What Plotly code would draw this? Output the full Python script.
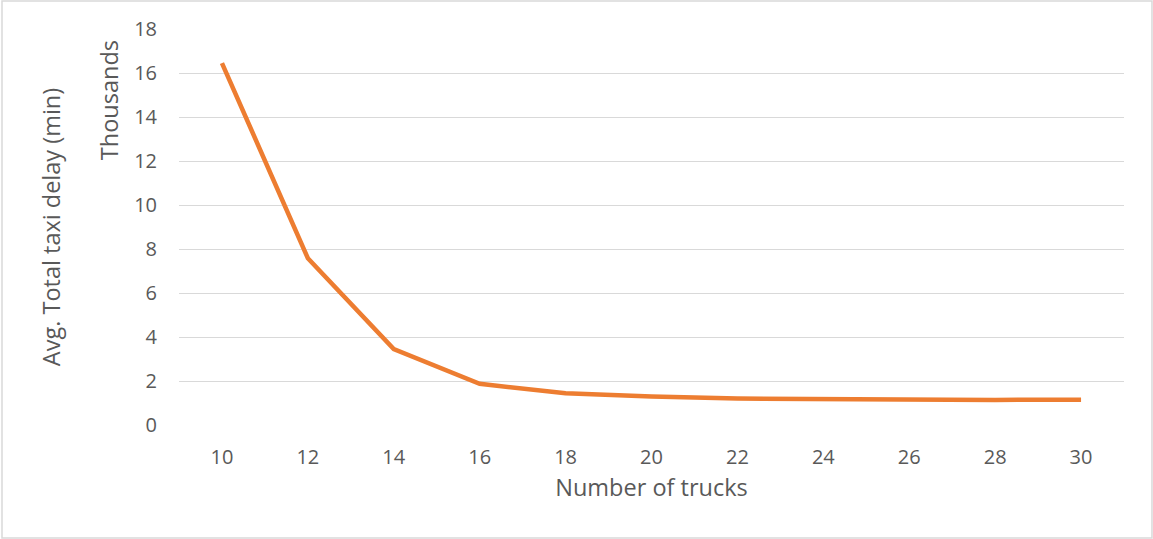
import plotly.graph_objects as go

# Number of trucks (category axis) and average total taxi delay, in thousands of minutes
trucks = ["10", "12", "14", "16", "18", "20", "22", "24", "26", "28", "30"]
delay_thousands = [16.45, 7.58, 3.45, 1.87, 1.44, 1.29, 1.2, 1.18, 1.12, 1.14, 1.15]

y_ticks = [0, 2, 4, 6, 8, 10, 12, 14, 16, 18]

FONT = "Open Sans"
TEXT = "#595959"
GRID = "#D9D9D9"
TICK_SIZE = 20
TITLE_SIZE = 23.5

fig = go.Figure()
fig.add_trace(go.Scatter(
    x=trucks,
    y=delay_thousands,
    mode="lines",
    line=dict(color="#ED7D31", width=4.5),
    hoverinfo="x+y",
    showlegend=False,
))

fig.update_layout(
    width=1153,
    height=539,
    margin=dict(l=179, r=29, t=29, b=114),
    paper_bgcolor="white",
    plot_bgcolor="white",
    font=dict(family=FONT, size=TICK_SIZE, color=TEXT),
    xaxis=dict(
        type="category",
        range=[-0.5, len(trucks) - 0.5],
        showgrid=False,
        showline=False,
        zeroline=False,
        ticks="",
        ticklabelstandoff=18,
        tickfont=dict(size=TICK_SIZE, color=TEXT),
        title=dict(text="Number of trucks", font=dict(size=TITLE_SIZE, color=TEXT), standoff=10),
    ),
    yaxis=dict(
        range=[0, 18],
        tickvals=y_ticks,
        showgrid=True,
        gridcolor=GRID,
        gridwidth=1.3,
        zeroline=False,
        showline=False,
        ticks="",
        ticklabelstandoff=21,
        tickfont=dict(size=TICK_SIZE, color=TEXT),
        title=dict(text="Avg. Total taxi delay (min)", font=dict(size=TITLE_SIZE, color=TEXT), standoff=66),
    ),
    annotations=[
        dict(
            text="Thousands",
            xref="paper", yref="paper",
            x=-0.074, y=0.977,
            xanchor="center", yanchor="top",
            textangle=-90,
            showarrow=False,
            font=dict(size=TITLE_SIZE, color=TEXT, family=FONT),
        )
    ],
    shapes=[
        dict(
            type="rect",
            xref="paper", yref="paper",
            x0=-0.1873, x1=1.0296, y0=-0.2854, y1=1.0707,
            line=dict(color=GRID, width=1.5),
            fillcolor="rgba(0,0,0,0)",
            layer="below",
        )
    ],
)

fig.write_html("out.html")
